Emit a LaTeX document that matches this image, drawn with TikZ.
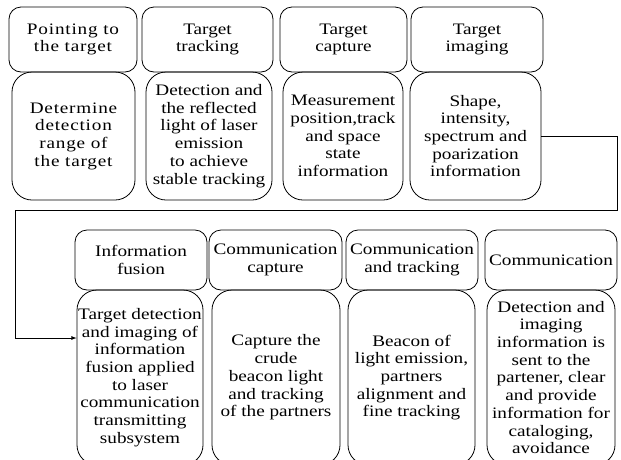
\documentclass[tikz,border=0pt]{standalone}
\usepackage{fontspec}
\setmainfont{Liberation Serif}[FakeStretch=1.2]
\newfontfamily\widefont{Liberation Serif}[FakeStretch=1.2,LetterSpace=5]

\def\fs{\fontsize{16pt}{17.7pt}\selectfont}

\begin{document}
\begin{tikzpicture}[x=1pt,y=-1pt,line width=0.8pt,
  every text node part/.style={align=center},
  head/.style={draw,rounded corners=12pt,inner sep=0pt,font=\fs},
  body/.style={draw,rounded corners=20pt,inner sep=0pt,font=\fs}]
  \useasboundingbox (0,0) rectangle (621,459);

  % first row
  \node[head,minimum width=128,minimum height=65] (h1) at (73,39.5) {\widefont Pointing to\\\widefont the target};
  \node[head,minimum width=131,minimum height=65] (h2) at (207.5,39.5) {Target\\tracking};
  \node[head,minimum width=127,minimum height=65] (h3) at (343.5,39.5) {Target\\capture};
  \node[head,minimum width=132,minimum height=65] (h4) at (477,39.5) {Target\\imaging};

  \node[body,minimum width=123,minimum height=128] (b1) at (73.5,136) {\widefont Determine\\\widefont detection\\\widefont range of\\\widefont the target};
  \node[body,minimum width=126,minimum height=128] (b2) at (209,136) {Detection and\\the reflected\\light of laser\\emission\\to achieve\\stable tracking};
  \node[body,minimum width=120,minimum height=128] (b3) at (343,136) {Measurement\\position,track\\and space\\state\\information};
  \node[body,minimum width=131,minimum height=128] (b4) at (475.5,136) {Shape,\\intensity,\\spectrum and\\poarization\\information};

  % second row
  \node[head,minimum width=132,minimum height=60] (h5) at (141,260) {Information\\fusion};
  \node[head,minimum width=133,minimum height=60] (h6) at (275.5,260) {Communication\\capture};
  \node[head,minimum width=132,minimum height=60] (h7) at (412,260) {Communication\\and tracking};
  \node[head,minimum width=132,minimum height=60] (h8) at (551,260) {Communication};

  \node[body,minimum width=126,minimum height=175] (b5) at (140,377.5) {Target detection\\and imaging of\\information\\fusion applied\\to laser\\communication\\transmitting\\subsystem};
  \node[body,minimum width=128,minimum height=175] (b6) at (276,377.5) {Capture the\\crude\\beacon light\\and tracking\\of the partners};
  \node[body,minimum width=127,minimum height=175] (b7) at (411.5,377.5) {Beacon of\\light emission,\\partners\\alignment and\\fine tracking};
  \node[body,minimum width=128,minimum height=175] (b8) at (551,377.5) {Detection and\\imaging\\information is\\sent to the\\partener, clear\\and provide\\information for\\cataloging,\\avoidance};

  \coordinate (t1) at (617,210);
  \coordinate (t2) at (15,338);
  \draw[-latex] (b4.east) -| (t1) -| (t2) -- (b5.west |- t2);
\end{tikzpicture}
\end{document}
